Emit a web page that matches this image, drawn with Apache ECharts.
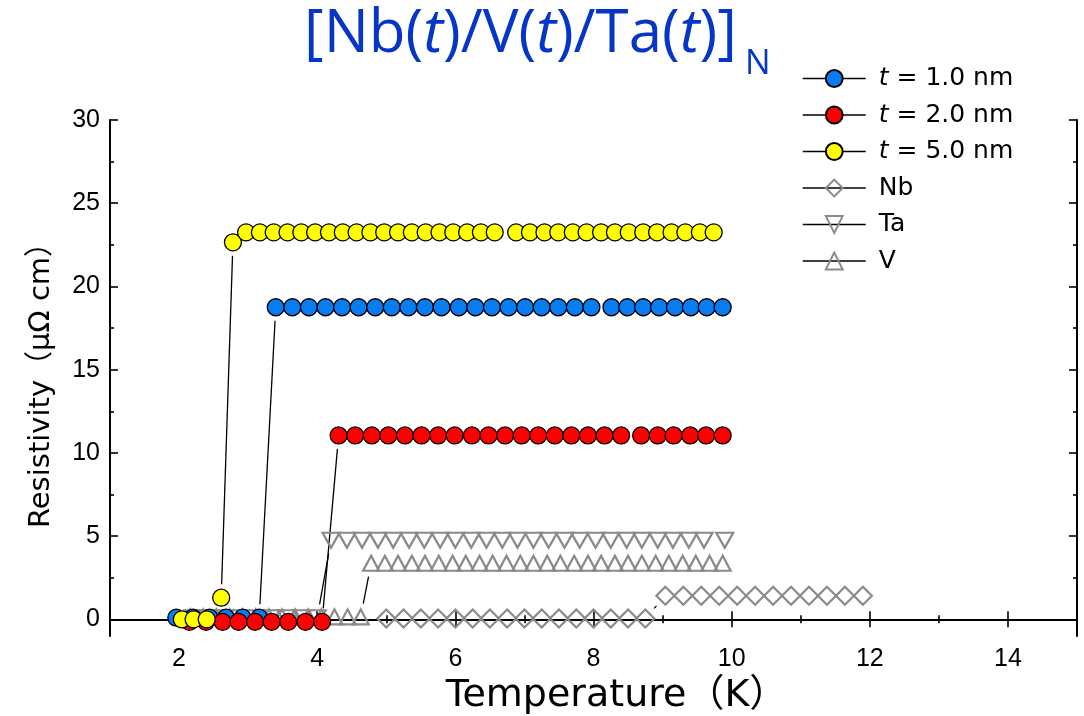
<!DOCTYPE html>
<html>
<head>
<meta charset="utf-8">
<script src="https://cdn.jsdelivr.net/npm/echarts@6/dist/echarts.min.js"></script>
<style>
  html, body { margin: 0; padding: 0; background: #fff; }
  #chart { width: 1084px; height: 716px; }
</style>
</head>
<body>
<div id="chart"></div>
<script>
// Resistivity vs temperature of [Nb(t)/V(t)/Ta(t)]N multilayers and single films.

// t = 1.0 nm
const tempT1 = [1.96, 2.20, 2.44, 2.68, 2.92, 3.16,
  3.40, 3.64, 3.88, 4.12, 4.36, 4.60, 4.84, 5.08, 5.32, 5.56, 5.80, 6.05, 6.29, 6.53,
  6.77, 7.01, 7.25, 7.49, 7.73, 7.97,
  8.26, 8.49, 8.72, 8.95, 9.18, 9.41, 9.64, 9.87];
const resT1 = [0.1, 0.1, 0.1, 0.1, 0.1, 0.1,
  18.75, 18.75, 18.75, 18.75, 18.75, 18.75, 18.75, 18.75, 18.75, 18.75, 18.75, 18.75, 18.75, 18.75,
  18.75, 18.75, 18.75, 18.75, 18.75, 18.75,
  18.75, 18.75, 18.75, 18.75, 18.75, 18.75, 18.75, 18.75];

// t = 2.0 nm
const tempT2 = [2.15, 2.39, 2.63, 2.86, 3.10, 3.34, 3.58, 3.83, 4.07,
  4.31, 4.55, 4.79, 5.03, 5.27, 5.51, 5.75, 5.99, 6.24, 6.48, 6.72, 6.96, 7.20, 7.44,
  7.68, 7.92, 8.16, 8.40,
  8.69, 8.93, 9.16, 9.40, 9.63, 9.87];
const resT2 = [-0.15, -0.15, -0.15, -0.15, -0.15, -0.15, -0.15, -0.15, -0.15,
  11.05, 11.05, 11.05, 11.05, 11.05, 11.05, 11.05, 11.05, 11.05, 11.05, 11.05, 11.05, 11.05, 11.05,
  11.05, 11.05, 11.05, 11.05,
  11.05, 11.05, 11.05, 11.05, 11.05, 11.05];

// t = 5.0 nm
const tempT5 = [2.04, 2.21, 2.40, 2.61, 2.78,
  2.97, 3.17, 3.37, 3.57, 3.77, 3.97, 4.17, 4.37, 4.57, 4.77, 4.97, 5.17, 5.37, 5.57,
  5.77, 5.97, 6.17, 6.37, 6.57,
  6.88, 7.08, 7.29, 7.49, 7.70, 7.90, 8.11, 8.31, 8.51, 8.72, 8.92, 9.13, 9.33, 9.54, 9.74];
const resT5 = [0, 0, 0, 1.3, 22.65,
  23.25, 23.25, 23.25, 23.25, 23.25, 23.25, 23.25, 23.25, 23.25, 23.25, 23.25, 23.25, 23.25, 23.25,
  23.25, 23.25, 23.25, 23.25, 23.25,
  23.25, 23.25, 23.25, 23.25, 23.25, 23.25, 23.25, 23.25, 23.25, 23.25, 23.25, 23.25, 23.25, 23.25, 23.25];

// Nb film
const tempNb = [5.00, 5.25, 5.50, 5.75, 6.00, 6.25, 6.50, 6.75, 7.00, 7.25, 7.50, 7.75, 8.00, 8.25, 8.50, 8.75,
  9.04, 9.30, 9.56, 9.82, 10.08, 10.34, 10.60, 10.86, 11.12, 11.38, 11.64, 11.90];
const resNb = [0.05, 0.05, 0.05, 0.05, 0.05, 0.05, 0.05, 0.05, 0.05, 0.05, 0.05, 0.05, 0.05, 0.05, 0.05, 0.05,
  1.42, 1.42, 1.42, 1.42, 1.42, 1.42, 1.42, 1.42, 1.42, 1.42, 1.42, 1.42];

// Ta film
const tempTa = [2.20, 2.43, 2.65, 2.88, 3.10, 3.33, 3.55, 3.78, 4.00,
  4.20, 4.43, 4.65, 4.88, 5.10, 5.33, 5.55, 5.78, 6.00, 6.23, 6.45, 6.68, 6.90, 7.13,
  7.35, 7.58, 7.80, 8.03, 8.25, 8.48, 8.70, 8.93, 9.15, 9.38, 9.60, 9.90];
const resTa = [0.1, 0.1, 0.1, 0.1, 0.1, 0.1, 0.1, 0.1, 0.1,
  4.75, 4.75, 4.75, 4.75, 4.75, 4.75, 4.75, 4.75, 4.75, 4.75, 4.75, 4.75, 4.75, 4.75,
  4.75, 4.75, 4.75, 4.75, 4.75, 4.75, 4.75, 4.75, 4.75, 4.75, 4.75, 4.75];

// V film
const tempV = [2.16, 2.35, 2.54, 2.73, 2.92, 3.11, 3.30, 3.49, 3.68, 3.87, 4.06, 4.25, 4.44, 4.63,
  4.78, 4.98, 5.17, 5.37, 5.56, 5.76, 5.96, 6.15, 6.35, 6.54, 6.74, 6.94, 7.13, 7.33,
  7.52, 7.72, 7.92, 8.11, 8.31, 8.50, 8.70, 8.90, 9.09, 9.29, 9.48, 9.68, 9.87];
const resV = [0.15, 0.15, 0.15, 0.15, 0.15, 0.15, 0.15, 0.15, 0.15, 0.15, 0.15, 0.15, 0.15, 0.15,
  3.37, 3.37, 3.37, 3.37, 3.37, 3.37, 3.37, 3.37, 3.37, 3.37, 3.37, 3.37, 3.37, 3.37,
  3.37, 3.37, 3.37, 3.37, 3.37, 3.37, 3.37, 3.37, 3.37, 3.37, 3.37, 3.37, 3.37];

// Axis ticks
const xMajorTicks = [2, 4, 6, 8, 10, 12, 14];
const xMinorTicks = [3, 5, 7, 9, 11, 13];
const yMajorTicks = [0, 5, 10, 15, 20, 25, 30];
const yMinorTicks = [2.5, 7.5, 12.5, 17.5, 22.5, 27.5];

const seriesNames = ['t = 1.0 nm', 't = 2.0 nm', 't = 5.0 nm', 'Nb', 'Ta', 'V'];

const BLUE_TITLE = '#0636c8';
const GRAY = '#8a8a8a';
const LINE_GAP = 13.5;   // gap left between connecting line and each symbol centre
const FONT = '"DejaVu Sans", "Noto Sans CJK JP", sans-serif';
const TICK_FONT = '"Liberation Sans", Arial, sans-serif';
const TITLE_FONT = '"Open Sans", sans-serif';

const zip = (xs, ys) => xs.map((x, i) => [x, ys[i]]);
const segments = (pts) => pts.slice(1).map((p, i) => [pts[i][0], pts[i][1], p[0], p[1]]);

const ptsT1 = zip(tempT1, resT1);
const ptsT2 = zip(tempT2, resT2);
const ptsT5 = zip(tempT5, resT5);
const ptsNb = zip(tempNb, resNb);
const ptsTa = zip(tempTa, resTa);
const ptsV = zip(tempV, resV);

const allSegments = [].concat(
  segments(ptsV), segments(ptsTa), segments(ptsNb),
  segments(ptsT1), segments(ptsT2), segments(ptsT5));

// Connecting line drawn with a gap around every symbol
function renderGapLine(params, api) {
  const a = api.coord([api.value(0), api.value(1)]);
  const b = api.coord([api.value(2), api.value(3)]);
  const dx = b[0] - a[0], dy = b[1] - a[1];
  const len = Math.hypot(dx, dy);
  if (len <= 2 * LINE_GAP + 1) return { type: 'group', children: [] };
  const ux = dx / len, uy = dy / len;
  return {
    type: 'line',
    silent: true,
    shape: {
      x1: a[0] + ux * LINE_GAP, y1: a[1] + uy * LINE_GAP,
      x2: b[0] - ux * LINE_GAP, y2: b[1] - uy * LINE_GAP
    },
    style: { stroke: '#000', lineWidth: 1.3 }
  };
}

function markerSeries(name, data, symbol, size, itemStyle, extra) {
  return Object.assign({
    name: name,
    type: 'line',
    data: data,
    symbol: symbol,
    symbolSize: size,
    showSymbol: true,
    lineStyle: { width: 0, opacity: 0 },
    itemStyle: itemStyle,
    silent: true,
    emphasis: { disabled: true },
    animation: false
  }, extra || {});
}

const circleStyle = (c) => ({ color: c, borderColor: '#000', borderWidth: 1.3 });
const hollowStyle = { color: 'rgba(255,255,255,0)', borderColor: GRAY, borderWidth: 2.2 };

const axisLineStyle = { show: true, lineStyle: { color: '#000', width: 2 } };
const tickStyle = { color: '#000', width: 1.6 };

function xAxisDef(position, ticks, len, labels, withLine, extra) {
  return Object.assign({
    type: 'value', min: 1, max: 15, position: position,
    axisLine: withLine ? axisLineStyle : { show: false },
    axisTick: { show: true, inside: true, length: len, customValues: ticks, lineStyle: tickStyle },
    axisLabel: labels ? { show: true, customValues: labels, fontSize: 25, fontFamily: TICK_FONT, color: '#000', margin: 11 } : { show: false },
    splitLine: { show: false }
  }, extra || {});
}
function yAxisDef(position, ticks, len, labels, withLine, extra) {
  return Object.assign({
    type: 'value', min: -1, max: 30, position: position,
    axisLine: withLine ? axisLineStyle : { show: false },
    axisTick: { show: true, inside: true, length: len, customValues: ticks, lineStyle: tickStyle },
    axisLabel: labels ? { show: true, customValues: labels, fontSize: 25, fontFamily: TICK_FONT, color: '#000', margin: 10 } : { show: false },
    splitLine: { show: false }
  }, extra || {});
}

const chart = echarts.init(document.getElementById('chart'), null, { renderer: 'canvas' });

chart.setOption({
  backgroundColor: '#fff',
  animation: false,
  title: [
    {
      text: '[Nb({i|t})/V({i|t})/Ta({i|t})]',
      left: 304, top: 5, padding: 0,
      textStyle: {
        fontFamily: TITLE_FONT, fontSize: 60, fontWeight: 'normal', color: BLUE_TITLE,
        rich: { i: { fontFamily: TITLE_FONT, fontSize: 60, fontStyle: 'italic', color: BLUE_TITLE } }
      }
    },
    {
      text: 'N', left: 745, top: 47, padding: 0,
      textStyle: { fontFamily: TITLE_FONT, fontSize: 34, fontWeight: 'normal', color: BLUE_TITLE }
    }
  ],
  grid: { left: 110, right: 7, top: 120, bottom: 80, outerBoundsMode: 'none' },
  legend: {
    data: seriesNames,
    orient: 'vertical',
    left: 796, top: 60,
    padding: [6, 8, 6, 6],
    backgroundColor: '#fff',
    itemWidth: 63, itemHeight: 21, itemGap: 11.5,
    selectedMode: false,
    lineStyle: { color: '#000', width: 1.5, opacity: 1, type: 'solid' },
    formatter: (name) => name.replace(/^t /, '{i|t} '),
    textStyle: {
      fontFamily: FONT, fontSize: 25, color: '#000', lineHeight: 22, padding: [0, 0, 0, 8],
      rich: { i: { fontFamily: FONT, fontSize: 25, fontStyle: 'italic', color: '#000' } }
    }
  },
  xAxis: [
    xAxisDef('bottom', xMajorTicks, 8, xMajorTicks, true, {
      name: 'Temperature（K）', nameLocation: 'middle', nameGap: 31,
      nameTextStyle: { fontFamily: FONT, fontSize: 38, color: '#000', padding: [0, 0, 0, 46] }
    }),
    xAxisDef('bottom', xMinorTicks, 4, null, false),
    xAxisDef('top', xMajorTicks, 8, null, true),
    xAxisDef('top', xMinorTicks, 4, null, false)
  ],
  yAxis: [
    yAxisDef('left', yMajorTicks, 8, yMajorTicks, true, {
      name: 'Resistivity（μΩ cm）', nameLocation: 'middle', nameGap: 54,
      nameTextStyle: { fontFamily: FONT, fontSize: 29, color: '#000' }
    }),
    yAxisDef('left', yMinorTicks, 4, null, false),
    yAxisDef('right', yMajorTicks, 8, null, true),
    yAxisDef('right', yMinorTicks, 4, null, false)
  ],
  series: [
    {
      name: 'links',
      type: 'custom',
      renderItem: renderGapLine,
      data: allSegments,
      encode: { x: [0, 2], y: [1, 3] },
      silent: true,
      z: 1,
      animation: false
    },
    markerSeries('V', ptsV, 'triangle', [16, 15], hollowStyle),
    markerSeries('Ta', ptsTa, 'triangle', [17, 15], hollowStyle, { symbolRotate: 180 }),
    markerSeries('Nb', ptsNb, 'diamond', [18, 18], hollowStyle),
    markerSeries('t = 1.0 nm', ptsT1, 'circle', 17, circleStyle('#0a7cf2')),
    markerSeries('t = 2.0 nm', ptsT2, 'circle', 17, circleStyle('#ff0000')),
    markerSeries('t = 5.0 nm', ptsT5, 'circle', 17, circleStyle('#ffff00'))
  ]
});
</script>
</body>
</html>
